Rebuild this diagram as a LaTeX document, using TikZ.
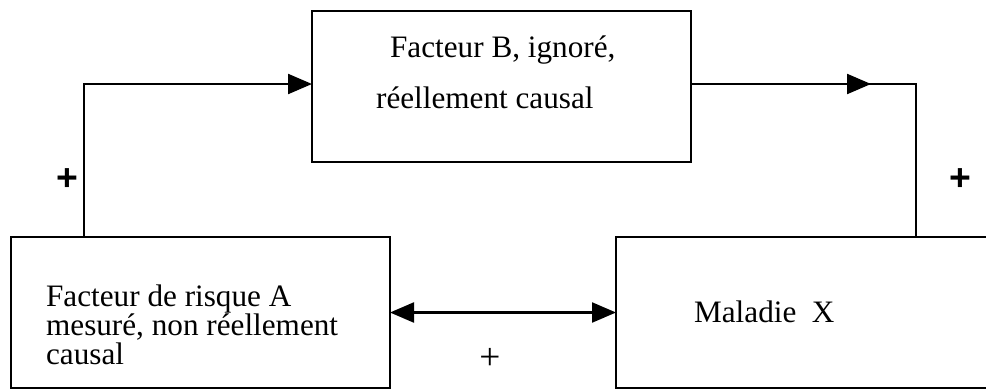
\documentclass[tikz,border=0pt]{standalone}
\usepackage{fontspec}
\setmainfont{Liberation Serif}
\newfontfamily\arialfont{Liberation Sans}
\usetikzlibrary{arrows.meta,calc}
\begin{document}
\begin{tikzpicture}[x=0.75pt,y=-0.75pt, line width=1.7pt,
  >={Triangle[length=18pt,width=15pt]},
  box/.style={draw, rectangle, anchor=north west, inner sep=0pt, outer sep=0pt, minimum height=113.25pt},
  txt/.style={font=\fontsize{23.4}{26}\selectfont, inner sep=0pt, anchor=base west},
  plusbf/.style={font=\arialfont\bfseries\fontsize{28}{28}\selectfont, inner sep=0pt},
  plusrm/.style={font=\fontsize{28}{28}\selectfont, inner sep=0pt}]
\useasboundingbox (0,0) rectangle (986,390);
% boxes
\node[box, minimum width=284.25pt] (B) at (312,11) {};
\node[box, minimum width=284.25pt] (A) at (11,237) {};
\node[box, minimum width=282pt] (X) at (616,237) {};
% texts
\node[txt] (b1) at (389,57) {Facteur B, ignoré,};
\node[txt] (b2) at (375,108) {réellement causal};
\node[txt] (a1) at (45,306) {Facteur de risque A};
\node[txt] (a2) at (45,335) {mesuré, non réellement};
\node[txt] (a3) at (45,364) {causal};
\node[txt] (x1) at (693,322) {Maladie\ \ X};
% connection points
\coordinate (aout) at ($(A.north west)+(73,0)$);
\coordinate (bin) at ($(B.north west)+(0,73)$);
\coordinate (bout) at ($(B.north east)+(0,73)$);
\coordinate (bmid) at (871,84);
\coordinate (xin) at (916,237);
% connectors
\draw[->] (aout) |- (bin);
\draw (bout) -| (xin);
\draw[->] (bout) -- (bmid);
\draw[<->] (A.east) -- (X.west);
% signs
\node[plusbf] (p1) at (67,180) {+};
\node[plusbf] (p2) at (960,180) {+};
\node[plusrm] (p3) at (490,359) {+};
\end{tikzpicture}
\end{document}
